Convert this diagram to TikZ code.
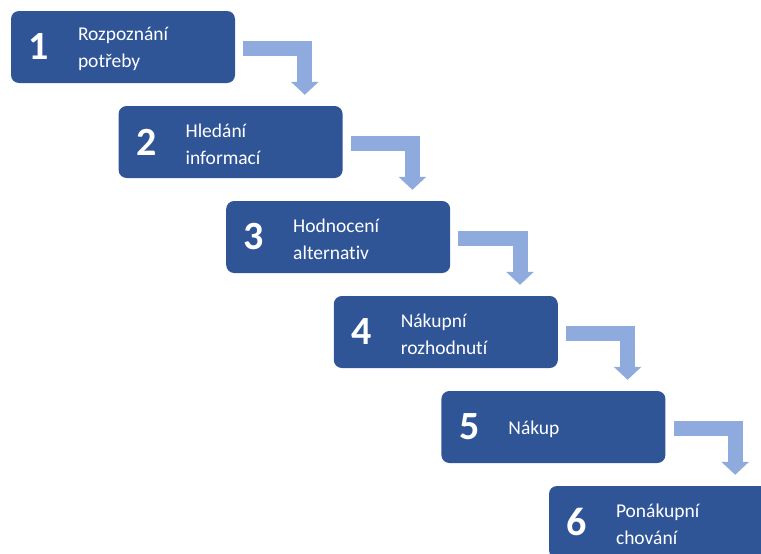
\documentclass[tikz,border=0pt]{standalone}
\usepackage{fontspec}
\setmainfont[Ligatures=NoCommon]{Carlito}
\usetikzlibrary{positioning}
\usetikzlibrary{arrows.meta}
\definecolor{stepblue}{HTML}{2F5597}
\definecolor{flowblue}{HTML}{8FAADC}

\begin{document}
\begin{tikzpicture}[x=1pt, y=1pt,
    stepbox/.style={fill=stepblue, draw=none, rounded corners=8pt, minimum width=224pt, minimum height=72pt},
    stepnum/.style={text=white, inner sep=0pt, font=\fontsize{40}{40}\selectfont\bfseries},
    steptext/.style={text=white, inner sep=0pt, align=left, yshift=-2pt, font=\fontsize{19.5}{27}\selectfont},
    stepflow/.style={draw=flowblue, line width=15pt, line join=miter, -{Triangle[width=27pt, length=13pt]}}]
            \useasboundingbox (0,0) rectangle (761,-554);
            \clip (0,0) rectangle (761,-554);

            \node[stepbox] (A) at (123,-47) {};
            \node[stepnum] (nA) at ([xshift=28pt]A.west) {1};
            \node[steptext, right = 67pt of A.west] (tA) {Rozpoznání\\potřeby};

            \node[stepbox] (B) at (230.6,-142) {};
            \node[stepnum] (nB) at ([xshift=28pt]B.west) {2};
            \node[steptext, right = 67pt of B.west] (tB) {Hledání\\informací};

            \node[stepbox] (C) at (338.2,-237) {};
            \node[stepnum] (nC) at ([xshift=28pt]C.west) {3};
            \node[steptext, right = 67pt of C.west] (tC) {Hodnocení\\alternativ};

            \node[stepbox] (D) at (445.8,-332) {};
            \node[stepnum] (nD) at ([xshift=28pt]D.west) {4};
            \node[steptext, right = 67pt of D.west] (tD) {Nákupní\\rozhodnutí};

            \node[stepbox] (E) at (553.4,-427) {};
            \node[stepnum] (nE) at ([xshift=28pt]E.west) {5};
            \node[steptext, right = 67pt of E.west] (tE) {Nákup};

            \node[stepbox] (F) at (661,-522) {};
            \node[stepnum] (nF) at ([xshift=28pt]F.west) {6};
            \node[steptext, right = 67pt of F.west] (tF) {Ponákupní\\chování};

            % tips of the bent arrows, just above the next box
            \coordinate (tipB) at ([shift={(-38pt,11pt)}]B.north east);
            \coordinate (tipC) at ([shift={(-38pt,11pt)}]C.north east);
            \coordinate (tipD) at ([shift={(-38pt,11pt)}]D.north east);
            \coordinate (tipE) at ([shift={(-38pt,11pt)}]E.north east);
            \coordinate (tipF) at ([shift={(-38pt,11pt)}]F.north east);

            \draw[stepflow] ([shift={(8pt,-1pt)}]A.east) -| (tipB);
            \draw[stepflow] ([shift={(8pt,-1pt)}]B.east) -| (tipC);
            \draw[stepflow] ([shift={(8pt,-1pt)}]C.east) -| (tipD);
            \draw[stepflow] ([shift={(8pt,-1pt)}]D.east) -| (tipE);
            \draw[stepflow] ([shift={(8pt,-1pt)}]E.east) -| (tipF);
        \end{tikzpicture}
\end{document}
